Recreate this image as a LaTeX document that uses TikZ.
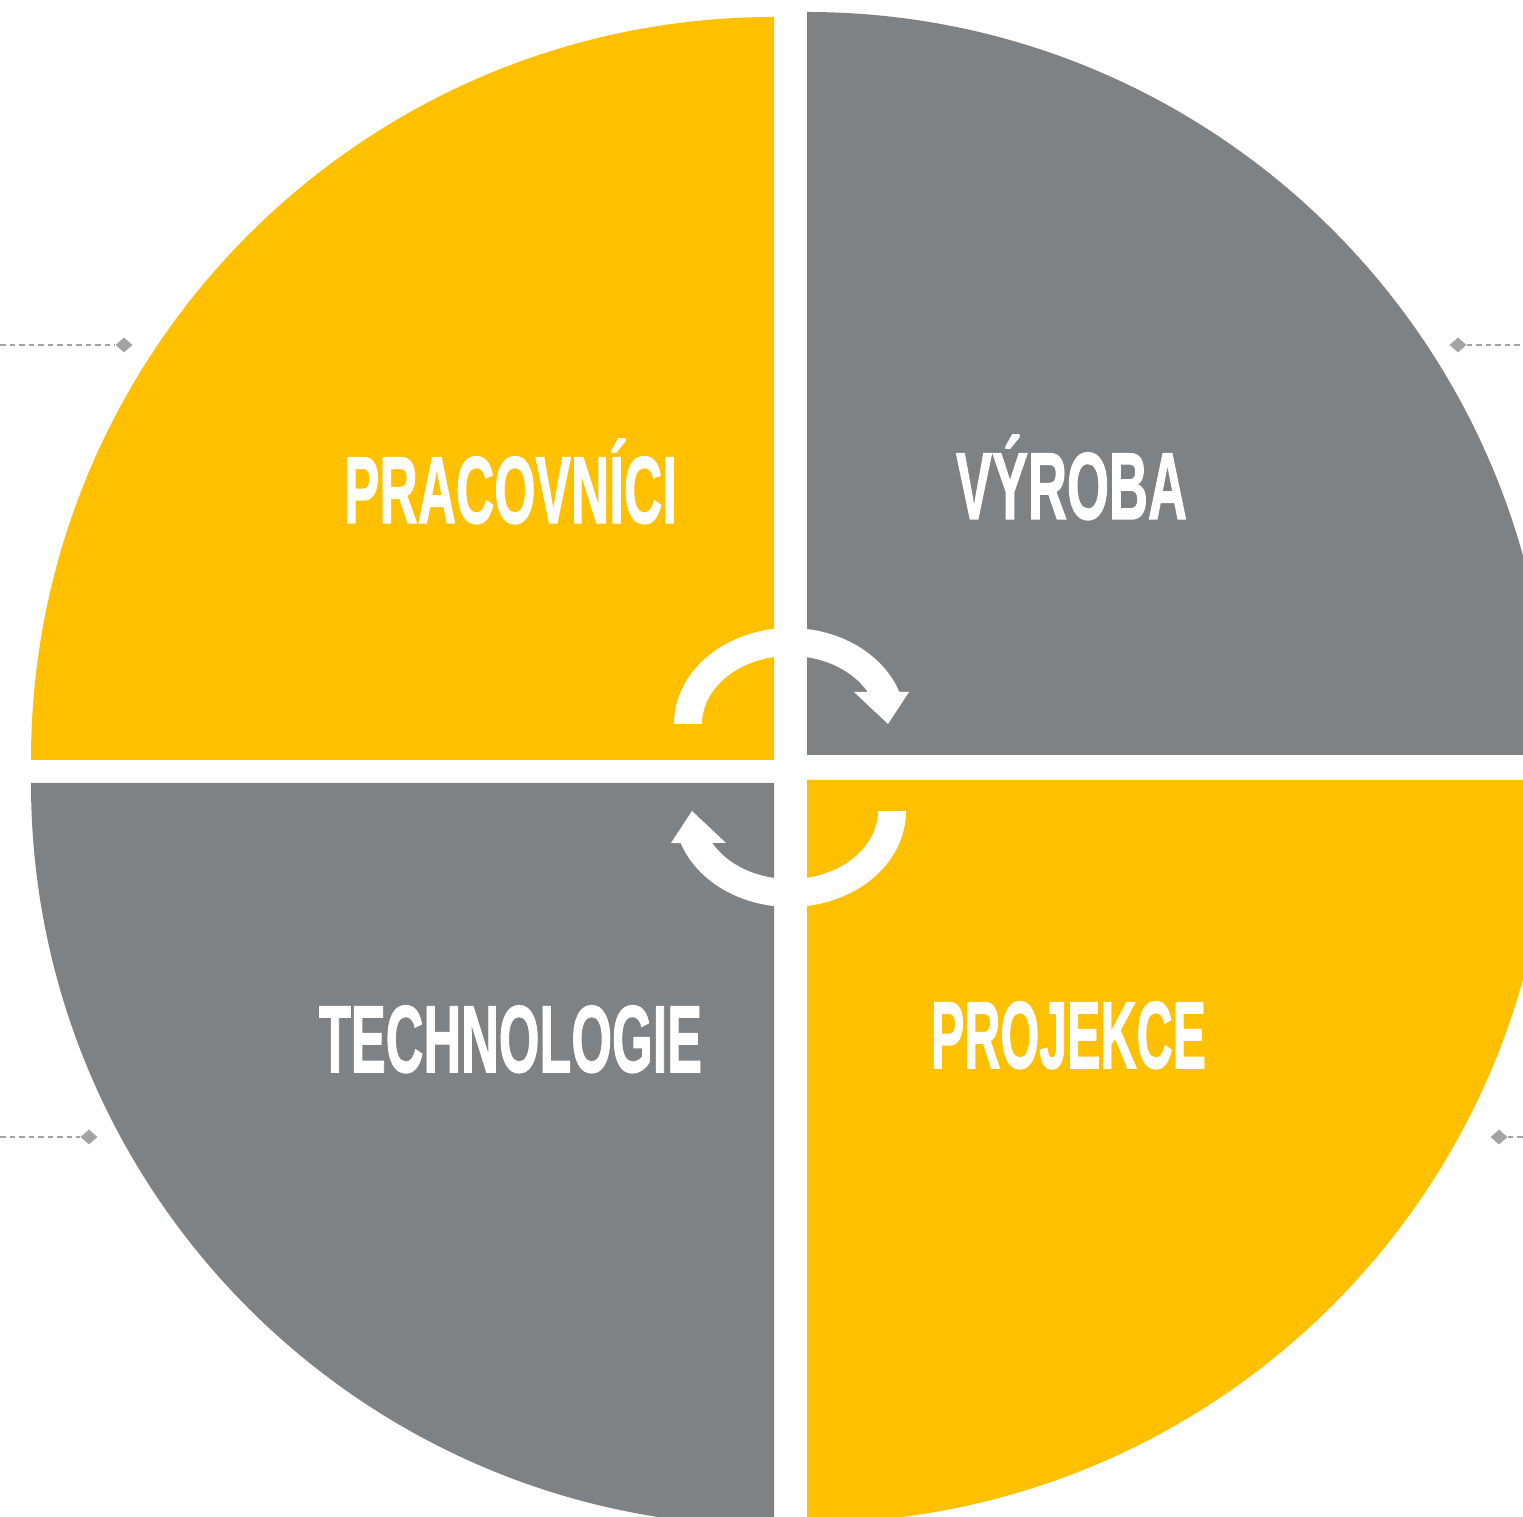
\documentclass[tikz,border=0pt]{standalone}
\usepackage{fontspec}
\setmainfont{Liberation Sans}
\newfontfamily\lblfont[UprightFont={* Bold}, FakeBold=1.6]{Liberation Sans}
\usetikzlibrary{shapes.geometric}
\definecolor{qyellow}{HTML}{FFC000}
\definecolor{qgray}{HTML}{7F8285}
\definecolor{lgray}{HTML}{A3A3A3}
\begin{document}
\begin{tikzpicture}[x=1pt,y=1pt,
  qlabel/.style={text=white, inner sep=0pt, anchor=base, font=\fontsize{95}{95}\lblfont},
  guide/.style={lgray, line width=1.3pt, dash pattern=on 5.5pt off 4pt},
  marker/.style={diamond, fill=lgray, inner sep=0pt, minimum width=17pt, minimum height=15pt}]
\useasboundingbox (0,0) rectangle (1523,1517);
\begin{scope}
\clip (0,0) rectangle (1523,1517);
% quarters
\fill[qyellow] (774,757) -- (31,757) arc[start angle=180,end angle=90,radius=743] -- cycle;
\fill[qgray] (807,762) -- (807,1505) arc[start angle=90,end angle=0,radius=743] -- cycle;
\fill[qgray] (774,734) -- (31,734) arc[start angle=180,end angle=270,radius=743] -- cycle;
\fill[qyellow] (807,737) -- (807,-6) arc[start angle=270,end angle=360,radius=743] -- cycle;
% cycle arrows
\fill[white] (674,793) arc[start angle=180, end angle=19.5, x radius=116, y radius=96]
  -- (909,825) -- (888,793) -- (854,825) -- (867.7,825)
  arc[start angle=28, end angle=180, x radius=88, y radius=68] -- cycle;
\begin{scope}[rotate around={180:(790,749.5)}]
\fill[white] (674,793) arc[start angle=180, end angle=19.5, x radius=116, y radius=96]
  -- (909,825) -- (888,793) -- (854,825) -- (867.7,825)
  arc[start angle=28, end angle=180, x radius=88, y radius=68] -- cycle;
\end{scope}
\end{scope}
% labels
\node[qlabel] (prac) at (510.5,994) {\resizebox{333pt}{\height}{PRACOVNÍCI}};
\node[qlabel] (vyr) at (1071.5,998) {\resizebox{231pt}{\height}{VÝROBA}};
\node[qlabel] (tech) at (510.5,445) {\resizebox{383pt}{\height}{TECHNOLOGIE}};
\node[qlabel] (proj) at (1068.5,449) {\resizebox{275pt}{\height}{PROJEKCE}};
% guide markers
\node[marker] (m1) at (124,1172) {};
\node[marker] (m2) at (1458,1172) {};
\node[marker] (m3) at (89,380) {};
\node[marker] (m4) at (1499,380) {};
\coordinate (e1) at (0,1172);
\coordinate (e2) at (1523,1172);
\coordinate (e3) at (0,380);
\coordinate (e4) at (1523,380);
\draw[guide] (e1) -- (m1);
\draw[guide] (m2) -- (e2);
\draw[guide] (e3) -- (m3);
\draw[guide] (m4) -- (e4);
\end{tikzpicture}
\end{document}
